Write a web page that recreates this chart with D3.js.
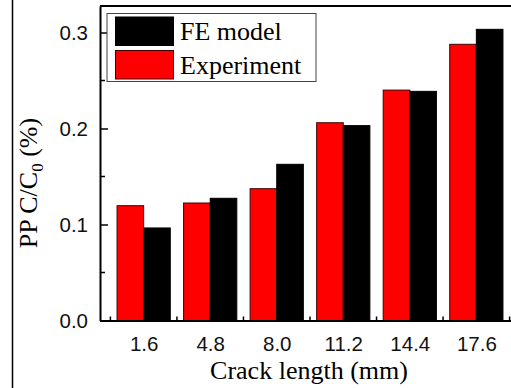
<!DOCTYPE html>
<html>
<head>
<meta charset="utf-8">
<script src="https://cdn.jsdelivr.net/npm/d3@7"></script>
<style>
  body { margin: 0; background: #fff; }
  svg { display: block; }
</style>
</head>
<body>
<svg id="chart" width="511" height="388"></svg>
<script>
// crack lengths (mm) and PP C/C0 (%)
const categories = [1.6, 4.8, 8.0, 11.2, 14.4, 17.6];
const experiment = [0.1196, 0.1224, 0.1373, 0.2060, 0.2400, 0.2877];
const feModel = [0.0964, 0.1273, 0.1627, 0.2030, 0.2387, 0.3033];
const yTicks = [0.0, 0.1, 0.2, 0.3];
const yMinor = [0.05, 0.15, 0.25];
const xMinor = [0, 3.2, 6.4, 9.6, 12.8, 16.0, 19.2];

const colors = {
  Experiment: '#ff0000',
  FE: '#000000',
};

const width = 511, height = 388;
const svg = d3.select("#chart");

const x = d3.scaleLinear().domain([-0.5, 19.7]).range([100, 520]);
const y = d3.scaleLinear().domain([0, 0.3276]).range([320.5, 6]);
const barW = x(1.28) - x(0);

// stray frame line on the left
svg.append("line")
  .attr("x1", 12.5).attr("x2", 12.5)
  .attr("y1", 0).attr("y2", height)
  .attr("stroke", "#000").attr("stroke-width", 1.5);

const plot = svg.append("g");

// bars
plot.selectAll("rect.exp")
  .data(categories)
  .enter().append("rect")
  .attr("class", "exp")
  .attr("x", (d) => x(d) - barW)
  .attr("y", (d, i) => y(experiment[i]))
  .attr("width", barW)
  .attr("height", (d, i) => y(0) - y(experiment[i]))
  .attr("fill", colors.Experiment)
  .attr("stroke", "#400")
  .attr("stroke-width", 1);

plot.selectAll("rect.fe")
  .data(categories)
  .enter().append("rect")
  .attr("class", "fe")
  .attr("x", (d) => x(d))
  .attr("y", (d, i) => y(feModel[i]))
  .attr("width", barW)
  .attr("height", (d, i) => y(0) - y(feModel[i]))
  .attr("fill", colors.FE)
  .attr("stroke", "#000")
  .attr("stroke-width", 1);

// y axis
const yAxis = plot.append("g")
  .attr("transform", `translate(${x(-0.5)},0)`)
  .call(d3.axisLeft(y).tickValues(yTicks).tickFormat(d3.format(".1f")).tickSizeInner(-8).tickSizeOuter(0).tickPadding(12));
yAxis.select(".domain").attr("stroke-width", 2);
yAxis.selectAll(".tick line").attr("stroke-width", 1.5);
yAxis.selectAll("text")
  .style("font-family", "Arial, 'Liberation Sans', sans-serif")
  .style("font-size", "20.5px")
  .attr("fill", "#111");

yAxis.selectAll("line.minor")
  .data(yMinor)
  .enter().append("line")
  .attr("class", "minor")
  .attr("x1", 0).attr("x2", 5)
  .attr("y1", (d) => y(d)).attr("y2", (d) => y(d))
  .attr("stroke", "#000").attr("stroke-width", 1.5);

// x axis
const xAxis = plot.append("g")
  .attr("transform", `translate(0,${y(0)})`)
  .call(d3.axisBottom(x).tickValues(categories).tickFormat(d3.format(".1f")).tickSizeInner(-7).tickSizeOuter(0).tickPadding(16));
xAxis.select(".domain").attr("stroke-width", 2);
xAxis.selectAll(".tick line").attr("stroke-width", 1.5);
xAxis.selectAll("text")
  .style("font-family", "Arial, 'Liberation Sans', sans-serif")
  .style("font-size", "20.5px")
  .attr("fill", "#111");

xAxis.selectAll("line.minor")
  .data(xMinor)
  .enter().append("line")
  .attr("class", "minor")
  .attr("x1", (d) => x(d)).attr("x2", (d) => x(d))
  .attr("y1", 0).attr("y2", -4)
  .attr("stroke", "#000").attr("stroke-width", 1.5);

// top frame
plot.append("line")
  .attr("x1", x(-0.5)).attr("x2", width)
  .attr("y1", y.range()[1]).attr("y2", y.range()[1])
  .attr("stroke", "#000").attr("stroke-width", 2);

// axis titles
svg.append("text")
  .attr("x", 309).attr("y", 379)
  .attr("text-anchor", "middle")
  .style("font-family", "'Liberation Serif', 'Times New Roman', serif")
  .style("font-size", "26px")
  .text("Crack length (mm)");

const yLab = svg.append("text")
  .attr("transform", "translate(37,183) rotate(-90)")
  .attr("text-anchor", "middle")
  .style("font-family", "'Liberation Serif', 'Times New Roman', serif")
  .style("font-size", "26px");
yLab.append("tspan").text("PP C/C");
yLab.append("tspan").attr("dy", 6).style("font-size", "17px").text("0");
yLab.append("tspan").attr("dy", -6).text(" (%)");

// legend
const legend = svg.append("g");
legend.append("rect")
  .attr("x", 107).attr("y", 13.5)
  .attr("width", 209).attr("height", 68)
  .attr("fill", "#fff")
  .attr("stroke", "#444").attr("stroke-width", 1);

const legendItems = [
  { label: "FE model", color: colors.FE, stroke: "#000" },
  { label: "Experiment", color: colors.Experiment, stroke: "#400" },
];
legend.selectAll("rect.sw")
  .data(legendItems)
  .enter().append("rect")
  .attr("class", "sw")
  .attr("x", 115.5).attr("y", (d, i) => 17 + i * 33.5)
  .attr("width", 58).attr("height", 28.5)
  .attr("fill", (d) => d.color)
  .attr("stroke", (d) => d.stroke).attr("stroke-width", 1);

legend.selectAll("text")
  .data(legendItems)
  .enter().append("text")
  .attr("x", 180).attr("y", (d, i) => 40 + i * 33.5)
  .style("font-family", "'Liberation Serif', 'Times New Roman', serif")
  .style("font-size", "26px")
  .text((d) => d.label);
</script>
</body>
</html>
